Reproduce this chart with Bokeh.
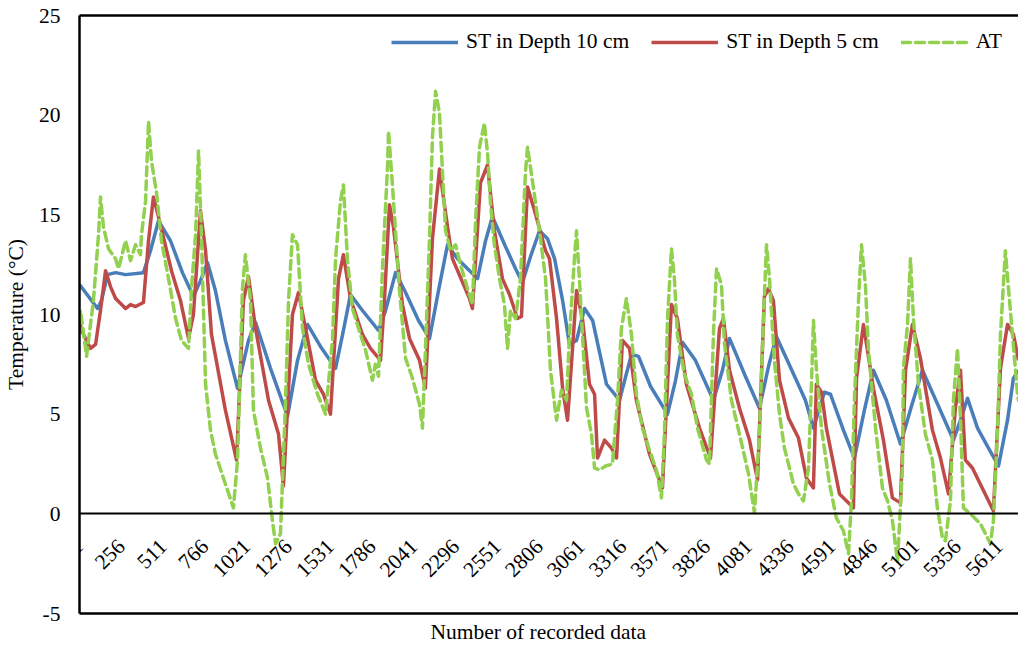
import math
from bokeh.plotting import figure
from bokeh.models import Range1d, FixedTicker, LinearAxis, ColumnDataSource, Title
from bokeh.embed import file_html
from bokeh.resources import INLINE

# ---------------- data ----------------
x_ticks = [1, 256, 511, 766, 1021, 1276, 1531, 1786, 2041, 2296, 2551, 2806,
           3061, 3316, 3571, 3826, 4081, 4336, 4591, 4846, 5101, 5356, 5611]
y_ticks = [-5, 0, 5, 10, 15, 20, 25]

st10_idx = [1, 56, 111, 135, 172, 221, 282, 391, 434, 483, 556, 629, 696, 739, 782, 830, 891, 965,
            1032, 1075, 1166, 1270, 1331, 1392, 1471, 1563, 1611, 1654, 1727, 1825, 1868, 1929, 1990,
            2069, 2136, 2191, 2246, 2307, 2429, 2478, 2520, 2600, 2661, 2703, 2752, 2807, 2856, 2899,
            2948, 2990, 3033, 3082, 3131, 3216, 3295, 3368, 3411, 3484, 3588, 3637, 3680, 3758, 3868,
            3923, 3966, 4063, 4149, 4204, 4252, 4374, 4429, 4478, 4545, 4582, 4661, 4728, 4789, 4844,
            4923, 5009, 5076, 5143, 5241, 5332, 5375, 5418, 5479, 5546, 5607, 5662, 5698, 5729]
st10_val = [11.5, 10.9, 10.3, 10.7, 12.0, 12.1, 12.0, 12.1, 13.2, 14.7, 13.7, 12.1, 10.9, 11.7, 12.6, 11.2, 8.7, 6.3,
            8.7, 9.6, 7.3, 4.9, 7.7, 9.5, 8.4, 7.3, 9.2, 11.0, 10.2, 9.2, 10.2, 12.1, 11.1,
            9.7, 8.8, 11.2, 13.5, 12.8, 11.8, 13.7, 14.9, 13.4, 12.3, 11.6, 12.9, 14.2, 13.8, 12.8,
            10.7, 8.5, 8.7, 10.3, 9.7, 6.5, 5.7, 8.0, 7.9, 6.4, 5.0, 6.7, 8.6, 7.7, 5.7,
            7.2, 8.8, 6.9, 5.3, 7.4, 8.9, 6.7, 5.7, 4.3, 6.1, 6.0, 4.2, 2.8, 5.2, 7.2,
            5.7, 3.5, 5.4, 7.2, 5.4, 3.7, 4.7, 5.8, 4.3, 3.3, 2.4, 4.7, 6.8, 7.2]

st5_idx = [1, 13, 68, 99, 129, 160, 190, 221, 282, 312, 343, 391, 422, 452, 483, 562, 617, 666, 696,
           739, 770, 806, 891, 959, 1001, 1032, 1075, 1154, 1215, 1245, 1300, 1337, 1380, 1441, 1489,
           1532, 1581, 1611, 1654, 1727, 1776, 1837, 1861, 1892, 1916, 1971, 2014, 2075, 2111, 2154,
           2197, 2246, 2276, 2380, 2398, 2447, 2490, 2532, 2581, 2624, 2673, 2697, 2734, 2777, 2844,
           2868, 2911, 2948, 2978, 3033, 3069, 3112, 3143, 3161, 3204, 3246, 3277, 3313, 3356, 3398,
           3478, 3557, 3612, 3648, 3703, 3783, 3850, 3905, 3929, 3966, 4027, 4088, 4137, 4179, 4204,
           4234, 4271, 4326, 4387, 4435, 4478, 4496, 4527, 4557, 4637, 4722, 4741, 4783, 4844, 4905,
           4960, 5009, 5040, 5082, 5131, 5204, 5253, 5302, 5344, 5375, 5405, 5448, 5576, 5619, 5662,
           5698, 5729]
st5_val = [9.7, 9.2, 8.3, 8.5, 10.2, 12.2, 11.4, 10.8, 10.3, 10.5, 10.4, 10.6, 13.7, 15.9, 14.9, 12.2, 10.7, 8.8, 10.0,
           15.2, 13.2, 9.0, 5.2, 2.7, 10.7, 11.9, 9.3, 5.7, 4.0, 1.4, 10.0, 11.1, 9.3, 6.7, 6.0,
           5.0, 11.8, 13.0, 10.8, 9.0, 8.3, 7.7, 10.7, 15.5, 14.4, 10.5, 8.8, 7.7, 6.3, 13.8,
           17.3, 14.4, 12.8, 10.8, 10.3, 16.6, 17.5, 14.2, 11.8, 11.0, 9.8, 9.9, 16.4, 15.2, 13.2,
           12.8, 9.8, 6.3, 4.7, 11.2, 9.8, 6.5, 6.0, 2.8, 3.7, 3.3, 2.8, 8.7, 8.3, 5.7,
           3.0, 1.3, 10.5, 9.8, 6.5, 4.3, 2.8, 9.3, 9.8, 7.2, 5.3, 3.7, 1.7, 10.9, 11.3,
           10.7, 6.7, 4.8, 3.8, 1.8, 1.3, 6.5, 6.1, 4.3, 1.0, 0.3, 6.8, 9.5, 6.3, 3.7,
           0.8, 0.55, 7.2, 9.5, 7.8, 4.2, 2.8, 1.0, 5.3, 7.2, 2.7, 2.3, 0.15, 7.3, 9.5,
           9.0, 7.7]

at_idx = [1, 7, 38, 44, 86, 117, 129, 147, 178, 221, 239, 282, 312, 343, 373, 379, 404, 422, 440,
          471, 501, 544, 587, 623, 666, 684, 709, 727, 745, 757, 770, 800, 830, 891, 940, 965, 995,
          1013, 1044, 1062, 1105, 1148, 1178, 1197, 1227, 1258, 1276, 1300, 1331, 1361, 1398, 1453,
          1502, 1544, 1563, 1593, 1611, 1636, 1666, 1715, 1746, 1788, 1806, 1825, 1849, 1880, 1886,
          1910, 1953, 1990, 2032, 2075, 2093, 2111, 2136, 2154, 2173, 2197, 2215, 2234, 2264, 2295,
          2325, 2368, 2398, 2417, 2441, 2471, 2490, 2508, 2532, 2563, 2593, 2612, 2630, 2661, 2691,
          2722, 2734, 2764, 2807, 2844, 2874, 2911, 2941, 2972, 2990, 3020, 3033, 3051, 3069, 3094,
          3124, 3143, 3173, 3210, 3252, 3283, 3307, 3337, 3368, 3398, 3435, 3478, 3520, 3551, 3569,
          3588, 3612, 3630, 3648, 3691, 3734, 3771, 3826, 3844, 3868, 3887, 3917, 3936, 3978, 4027,
          4082, 4118, 4149, 4173, 4192, 4210, 4240, 4271, 4301, 4332, 4356, 4387, 4417, 4448, 4466,
          4478, 4496, 4527, 4576, 4618, 4661, 4692, 4710, 4728, 4753, 4771, 4795, 4814, 4857, 4899,
          4930, 4960, 4991, 5021, 5027, 5052, 5070, 5088, 5119, 5161, 5204, 5234, 5265, 5283, 5314,
          5332, 5357, 5375, 5393, 5436, 5497, 5558, 5576, 5600, 5619, 5649, 5668, 5692, 5723, 5729]
at_val = [9.7, 10.2, 8.3, 7.9, 10.7, 14.0, 15.9, 14.4, 13.3, 12.8, 12.3, 13.7, 12.7, 13.5, 13.0, 14.0, 15.7, 19.7, 17.7,
          16.1, 13.7, 11.8, 9.8, 8.7, 8.3, 11.3, 14.0, 18.2, 14.0, 10.3, 6.5, 4.2, 3.0, 1.5, 0.3, 2.7, 11.3,
          13.0, 10.7, 5.2, 3.3, 1.8, -0.35, -1.5, -1.0, 5.7, 10.7, 14.0, 13.5, 9.3, 7.5, 6.0,
          5.0, 8.7, 12.8, 15.7, 16.5, 12.7, 10.3, 9.0, 8.2, 6.7, 7.5, 6.9, 12.3, 17.4, 19.2,
          16.5, 11.2, 7.8, 6.8, 5.5, 4.3, 8.2, 13.8, 18.9, 21.2, 20.1, 17.2, 14.2, 13.2, 13.5,
          12.5, 11.3, 10.5, 14.7, 18.4, 19.6, 18.1, 15.6, 13.5, 11.8, 10.5, 8.3, 10.2, 9.8, 11.8,
          17.2, 18.4, 16.7, 14.2, 11.8, 7.2, 4.7, 6.2, 5.7, 9.0, 12.8, 14.2, 11.7, 9.0, 5.3,
          4.0, 2.3, 2.2, 2.4, 2.5, 5.7, 9.3, 10.8, 9.0, 6.0, 4.3, 3.2, 2.2, 0.8, 4.0,
          9.8, 13.3, 11.8, 9.0, 7.0, 6.0, 4.3, 2.7, 2.5, 9.0, 12.3, 11.5, 8.5, 5.7, 4.0,
          2.0, 0.05, 4.0, 9.8, 13.5, 11.8, 7.7, 5.0, 3.3, 2.3, 1.5, 1.0, 0.65, 2.3, 6.5,
          9.7, 7.3, 4.3, 1.5, -0.2, -0.85, -2.0, 0.65, 5.7, 10.7, 13.5, 11.5, 8.2, 4.3, 1.3,
          0.65, -0.35, -2.4, 2.3, 7.3, 9.5, 12.8, 9.8, 6.5, 4.0, 2.7, 0.3, -1.2, -1.35, 0.65,
          5.7, 8.3, 4.8, 0.3, 0.0, -0.5, -1.5, -0.35, 4.0, 9.0, 13.2, 11.3, 9.0, 6.0, 5.7]

names = ["ST in Depth 10 cm", "ST in Depth 5 cm", "AT"]
colors = ["#4A7EBB", "#BE4B48", "#92D050"]

FONT = "Liberation Serif"
FS = "21.5px"

p = figure(width=1018, height=651, output_backend="svg", toolbar_location=None,
           x_range=Range1d(1, 5729), y_range=Range1d(-5, 25),
           min_border_left=79, min_border_right=0, min_border_top=15, min_border_bottom=38)
p.outline_line_color = None
p.xgrid.visible = False
p.ygrid.visible = False
p.background_fill_color = "white"
p.border_fill_color = "white"

src10 = ColumnDataSource(dict(x=st10_idx, y=st10_val))
src5 = ColumnDataSource(dict(x=st5_idx, y=st5_val))
srcat = ColumnDataSource(dict(x=at_idx, y=at_val))

p.line("x", "y", source=src10, line_color=colors[0], line_width=3.5, line_join="round",
       legend_label=names[0])
p.line("x", "y", source=src5, line_color=colors[1], line_width=3.5, line_join="round",
       legend_label=names[1])
p.line("x", "y", source=srcat, line_color=colors[2], line_width=3.5, line_join="round",
       line_cap="round", line_dash="9 5", legend_label=names[2])

# y axis
ya = p.yaxis[0]
ya.ticker = FixedTicker(ticks=y_ticks)
ya.major_label_overrides = {-5: "-5"}
ya.major_tick_line_color = None
ya.minor_tick_line_color = None
ya.major_tick_out = 0
ya.major_tick_in = 0
ya.minor_tick_out = 0
ya.axis_line_width = 2.5
ya.axis_line_color = "black"
ya.major_label_standoff = 19
ya.major_label_text_font = FONT
ya.major_label_text_font_size = FS
ya.major_label_text_color = "black"
ya.axis_label = "Temperature (°C)"
ya.axis_label_text_font = FONT
ya.axis_label_text_font_size = FS
ya.axis_label_text_font_style = "normal"
ya.axis_label_text_color = "black"
ya.axis_label_standoff = 8

# x axis on the zero line
xa = p.xaxis[0]
xa.fixed_location = 0
xa.ticker = FixedTicker(ticks=x_ticks)
xa.major_label_orientation = math.pi / 4
xa.major_tick_line_color = None
xa.minor_tick_line_color = None
xa.major_tick_out = 0
xa.major_tick_in = 0
xa.minor_tick_out = 0
xa.axis_line_width = 2
xa.axis_line_color = "black"
xa.major_label_standoff = 29
xa.major_label_text_font = FONT
xa.major_label_text_font_size = FS
xa.major_label_text_color = "black"

# bottom frame line
bx = LinearAxis(ticker=FixedTicker(ticks=[]),
                axis_line_width=2.5, axis_line_color="black",
                major_tick_line_color=None, minor_tick_line_color=None,
                major_tick_out=0, major_tick_in=0, minor_tick_out=0,
                major_label_text_font_size="0px")
p.add_layout(bx, "below")

# x axis title
xt = Title(text="Number of recorded data", align="left", offset=351,
           text_font=FONT, text_font_size=FS, text_font_style="normal",
           text_color="black", standoff=8)
p.add_layout(xt, "below")

# top frame line
tx = LinearAxis(ticker=FixedTicker(ticks=[]), axis_line_width=2.5, axis_line_color="black",
                major_tick_line_color=None, minor_tick_line_color=None,
                major_tick_out=0, major_tick_in=0, minor_tick_out=0,
                major_label_text_font_size="0px")
p.add_layout(tx, "above")

lg = p.legend[0]
lg.orientation = "horizontal"
lg.location = (312, 559)
lg.glyph_width = 67
lg.glyph_height = 20
lg.label_height = 20
lg.label_standoff = 8
lg.spacing = 22
lg.padding = 0
lg.margin = 0
lg.border_line_color = None
lg.background_fill_alpha = 0
lg.label_text_font = FONT
lg.label_text_font_size = FS
lg.label_text_color = "black"

open("out.html", "w").write(file_html(p, INLINE))
